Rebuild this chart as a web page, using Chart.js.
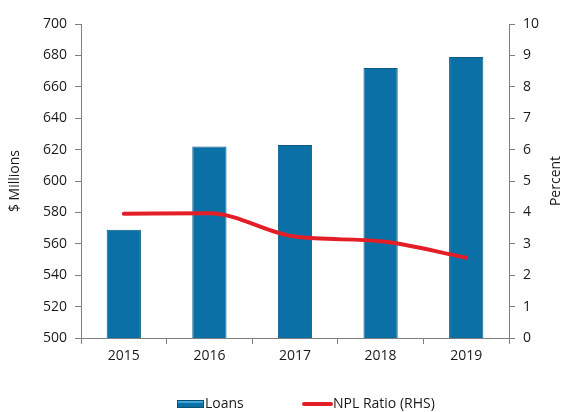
<!DOCTYPE html>
<html>
<head>
<meta charset="utf-8">
<script src="https://cdn.jsdelivr.net/npm/chart.js@4/dist/chart.umd.min.js"></script>
<style>
  html, body { margin: 0; padding: 0; background: #fff; }
  #wrap { width: 566px; height: 412px; }
</style>
</head>
<body>
<div id="wrap"><canvas id="chart"></canvas></div>
<script>
// values
const years = ["2015", "2016", "2017", "2018", "2019"];
const loans = [569, 622, 623, 672, 679];
const nplRatio = [3.96, 3.97, 3.23, 3.08, 2.56];

const FONT = "'Open Sans', 'Liberation Sans', sans-serif";
const AXIS = "#7f7f7f";
const TEXT = "#1a1a1a";

// axis titles (both read bottom-to-top) and the legend under the plot
const extras = {
  id: "extras",
  afterDraw(chart) {
    const ctx = chart.ctx;
    const area = chart.chartArea;
    const midY = (area.top + area.bottom) / 2;
    ctx.save();
    ctx.font = "14px " + FONT;
    ctx.fillStyle = TEXT;
    ctx.textAlign = "center";
    ctx.textBaseline = "middle";

    [[15, "$ Millions"], [556, "Percent"]].forEach(([x, t]) => {
      ctx.save();
      ctx.translate(x, midY);
      ctx.rotate(-Math.PI / 2);
      ctx.fillText(t, 0, 0);
      ctx.restore();
    });

    const bars = chart.data.datasets.find(d => d.type === "bar");
    const line = chart.data.datasets.find(d => d.type === "line");
    const y = 404;
    ctx.textAlign = "left";

    // Loans swatch
    let x = 177;
    ctx.fillStyle = "#0b70a5";
    ctx.fillRect(x, y - 4, 27, 8);
    ctx.strokeStyle = "#0a4f75";
    ctx.lineWidth = 1;
    ctx.strokeRect(x + 0.5, y - 3.5, 26, 7);
    ctx.fillStyle = "#3aa7dc";
    ctx.fillRect(x + 1, y - 3, 25, 2);
    ctx.fillStyle = TEXT;
    ctx.fillText(bars.label, x + 28, y);

    // NPL swatch
    x = 302;
    ctx.strokeStyle = "#e41e26";
    ctx.lineWidth = 4;
    ctx.lineCap = "round";
    ctx.beginPath();
    ctx.moveTo(x + 2, y);
    ctx.lineTo(x + 29, y);
    ctx.stroke();
    ctx.fillText(line.label, x + 31, y);
    ctx.restore();
  }
};

new Chart(document.getElementById("chart"), {
  data: {
    labels: years,
    datasets: [
      {
        type: "line",
        label: "NPL Ratio (RHS)",
        data: nplRatio,
        yAxisID: "y1",
        borderColor: "#e41e26",
        borderWidth: 4,
        cubicInterpolationMode: "monotone",
        pointRadius: 0,
        borderCapStyle: "round",
        order: 0
      },
      {
        type: "bar",
        label: "Loans",
        data: loans,
        yAxisID: "y",
        backgroundColor: "#0b70a5",
        borderColor: "#0a5a86",
        borderWidth: 1,
        barPercentage: 0.4,
        categoryPercentage: 1,
        order: 1
      }
    ]
  },
  options: {
    responsive: true,
    maintainAspectRatio: false,
    animation: false,
    layout: { padding: { top: 24, bottom: 38, left: 0, right: 0 } },
    plugins: {
      legend: { display: false },
      tooltip: { enabled: false }
    },
    scales: {
      x: {
        grid: { display: true, drawOnChartArea: false, drawTicks: true, tickLength: 6, color: AXIS, offset: true },
        border: { color: AXIS, width: 1 },
        ticks: { color: TEXT, font: { family: FONT, size: 14 }, padding: 4 },
        afterFit(s) { s.height = 36; }
      },
      y: {
        position: "left",
        min: 500,
        max: 700,
        grid: { drawOnChartArea: false, drawTicks: true, tickLength: 6, color: AXIS },
        border: { color: AXIS, width: 1 },
        ticks: { stepSize: 20, color: TEXT, font: { family: FONT, size: 14 }, padding: 8 },
        afterFit(s) { s.width = 81; }
      },
      y1: {
        position: "right",
        min: 0,
        max: 10,
        grid: { drawOnChartArea: false, drawTicks: true, tickLength: 6, color: AXIS },
        border: { color: AXIS, width: 1 },
        ticks: { stepSize: 1, color: TEXT, font: { family: FONT, size: 14 }, padding: 8 },
        afterFit(s) { s.width = 57; }
      }
    }
  },
  plugins: [extras]
});
</script>
</body>
</html>
